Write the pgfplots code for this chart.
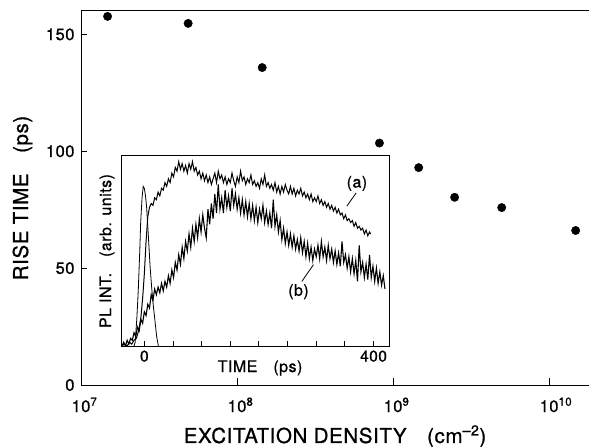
\documentclass[border=0pt]{standalone}
\usepackage{fontspec}
\setmainfont{TeX Gyre Heros}[FakeBold=0.8, LetterSpace=3]
\usepackage{pgfplots}
\pgfplotsset{compat=1.18}
\newcommand{\sz}[1]{\fontsize{#1}{#1}\selectfont}
\begin{document}
\begin{tikzpicture}
\begin{axis}[
  at={(0pt,0pt)}, anchor=south west,
  scale only axis, width=508pt, height=374pt,
  xmode=log, xmin=1e7, xmax=1.803e10, ymin=0, ymax=160,
  axis x line*=box, axis y line*=left,
  xtick={1e7,1e8,1e9,1e10},
  xticklabels={10\rlap{\textsuperscript{7}},10\rlap{\textsuperscript{8}},10\rlap{\textsuperscript{9}},10\rlap{\textsuperscript{10}}},
  xminorticks=false,
  ytick={0,50,100,150},
  tick align=inside, major tick length=6.5pt,
  xtick pos=left, ytick pos=left,
  tick style={line width=0.9pt, black},
  axis line style={line width=1pt},
  /pgf/number format/assume math mode=true,
  ticklabel style={font=\sz{16.5}},
  xticklabel style={anchor=base, yshift=-27pt},
  yticklabel style={anchor=east, xshift=-3pt},
  xlabel={EXCITATION DENSITY\quad(cm\textsuperscript{--2})},
  ylabel={RISE TIME\quad(ps)},
  xlabel style={font=\sz{20.5}, at={(axis description cs:0.5,-0.155)}, anchor=base},
  ylabel style={font=\sz{20.5}, at={(axis description cs:-0.115,0.5)}, anchor=center},
]
\addplot[only marks, mark=*, mark size=4.2pt, black] coordinates {
(1.48e7,157.7) (4.86e7,154.7) (1.45e8,135.8) (8.18e8,103.5)
(1.46e9,93.0) (2.48e9,80.3) (4.97e9,75.9) (1.48e10,66.1)};
\end{axis}
\begin{axis}[
  at={(41pt,39pt)}, anchor=south west,
  scale only axis, width=267pt, height=190pt,
  xmin=-39, xmax=427, ymin=0, ymax=100,
  xtick={0,50,...,400}, xticklabels={0,,,,,,,,400},
  ytick=\empty,
  tick align=inside, major tick length=5pt,
  xtick pos=left,
  tick style={line width=0.9pt, black},
  axis line style={line width=1pt},
  /pgf/number format/assume math mode=true,
  xticklabel style={font=\sz{15.5}, anchor=north, yshift=-1pt},
  xlabel={TIME\quad(ps)},
  ylabel={PL INT.\quad(arb. units)},
  xlabel style={font=\sz{16}, at={(axis description cs:0.517,-0.137)}, anchor=base},
  ylabel style={font=\sz{16}, at={(axis description cs:-0.056,0.5)}, anchor=center},
]
% curve (a)
\addplot[black, line width=1pt] coordinates {
(-39,0) (-35,1) (-30,0) (-26,2) (-22,1) (-18,3) (-14,4) (-10,8) (-6,15) (-3,25) (0,38) (3,55) (6,68) (9,73) (12,75) (15,74) (18,78) (21,77) (24,81) (27,79) (30,83) (33,82) (36,86) (39,84) (42,88) (45,86) (48,91) (51,89) (54,94) (57,92) (60,97) (63,93) (66,96) (69,92) (72,95) (75,91) (78,96) (81,93) (84,97) (87,92) (90,94) (93,90) (96,92) (99,88) (102,91) (105,87) (108,90) (111,86) (114,89) (117,85) (120,88) (123,91) (126,86) (129,92) (132,88) (135,90) (138,86) (141,89) (144,85) (147,88) (150,86) (153,91) (156,87) (159,84) (162,89) (165,86) (168,92) (171,87) (174,89) (177,85) (180,88) (183,86) (186,90) (189,85) (192,87) (195,84) (198,86) (201,83) (204,88) (207,85) (210,90) (213,84) (216,86) (219,83) (222,85) (225,82) (228,86) (231,81) (234,84) (237,80) (240,84) (243,81) (246,85) (249,82) (252,80) (255,84) (258,80) (261,83) (264,79) (267,82) (270,80) (273,83) (276,79) (279,81) (282,78) (285,80) (288,77) (291,80) (294,76) (297,78) (300,76) (303,79) (306,75) (309,77) (312,74) (315,76) (318,73) (321,75) (324,72) (327,74) (330,71) (333,73) (336,70) (339,72) (342,69) (345,70) (348,67) (351,69) (354,66) (357,67) (360,65) (363,66) (366,63) (369,65) (372,62) (375,63) (378,61) (381,62) (384,59) (387,61) (390,58) (393,60) (395,59)};
% curve (b)
\addplot[black, line width=1.1pt] coordinates {
(-39,0) (-36,2) (-33,0) (-30,3) (-27,1) (-24,4) (-21,3) (-18,7) (-15,5) (-12,10) (-9,8) (-6,14) (-3,12) (0,18) (3,16) (6,22) (9,20) (12,27) (15,24) (18,30) (21,27) (24,31) (27,28) (30,33) (33,29) (36,34) (39,31) (42,37) (45,33) (48,40) (51,36) (54,44) (57,40) (60,48) (63,43) (66,52) (69,46) (72,55) (75,50) (78,59) (81,52) (84,62) (87,55) (90,64) (93,57) (96,67) (99,60) (102,69) (105,62) (108,57) (111,72) (114,64) (117,75) (120,67) (123,80) (126,70) (129,85) (132,72) (135,78) (138,70) (141,82) (144,73) (147,79) (150,71) (153,83) (156,74) (159,80) (162,72) (165,78) (168,70) (171,77) (174,69) (177,76) (180,68) (183,75) (186,67) (189,74) (192,66) (195,73) (198,65) (201,72) (204,67) (207,74) (210,65) (213,71) (216,64) (219,70) (222,62) (225,77) (228,63) (231,69) (234,60) (237,66) (240,56) (243,62) (246,54) (249,60) (252,53) (255,59) (258,52) (261,58) (264,51) (267,56) (270,50) (273,57) (276,49) (279,55) (282,47) (285,54) (288,46) (291,52) (294,45) (297,51) (300,47) (303,53) (306,46) (309,55) (312,47) (315,52) (318,45) (321,53) (324,46) (327,51) (330,44) (333,50) (336,43) (339,49) (342,42) (345,55) (348,44) (351,48) (354,41) (357,47) (360,39) (363,46) (366,38) (369,45) (372,34) (375,53) (378,39) (381,44) (384,36) (387,43) (390,35) (393,48) (396,36) (399,42) (402,34) (405,41) (408,33) (411,39) (414,32) (417,37) (420,30)};
% laser pulse
\addplot[black, line width=0.8pt] coordinates {
(-18,0) (-16,2) (-13,15) (-10.5,30) (-8,50) (-6.4,65) (-4,78) (-2,84) (0,83) (2,79) (4,73) (7,58) (10,42) (13,30) (15.7,21) (19,12) (21.5,5) (24.5,0)};
\node[font=\sz{16}] at (axis cs:371,85.6) {(a)};
\node[font=\sz{16}] at (axis cs:269,28.6) {(b)};
\draw[line width=0.8pt] (axis cs:369.7,80.6) -- (axis cs:353.4,73.6);
\draw[line width=0.8pt] (axis cs:274.8,34) -- (axis cs:295.2,42.8);
\end{axis}
\pgfresetboundingbox
\path[use as bounding box] (-81pt,-62pt) rectangle (508pt,385pt);
\end{tikzpicture}
\end{document}
